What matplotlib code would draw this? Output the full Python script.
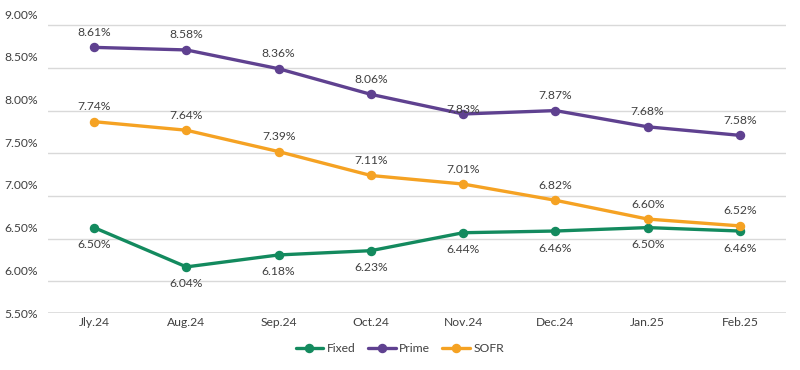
import matplotlib
matplotlib.use("Agg")
import matplotlib.pyplot as plt
import numpy as np

months = ["Jly.24", "Aug.24", "Sep.24", "Oct.24", "Nov.24", "Dec.24", "Jan.25", "Feb.25"]
fixed = [6.50, 6.04, 6.18, 6.23, 6.44, 6.46, 6.50, 6.46]
prime = [8.61, 8.58, 8.36, 8.06, 7.83, 7.87, 7.68, 7.58]
sofr = [7.74, 7.64, 7.39, 7.11, 7.01, 6.82, 6.60, 6.52]
yticks = [5.50, 6.00, 6.50, 7.00, 7.50, 8.00, 8.50, 9.00]

plt.rcParams['font.family'] = ['Lato', 'DejaVu Sans']
text_color = "#404040"

fig = plt.figure(figsize=(8, 3.7), dpi=100)
ax = fig.add_axes([0.06, 0.154, 0.9225, 0.808])

x = np.arange(len(months))
series = [
    ("Fixed", fixed, "#138a5e", -17),
    ("Prime", prime, "#5f4190", 15),
    ("SOFR", sofr, "#f5a223", 15),
]
prime_offsets = [15, 15, 15, 15, 4, 15, 15, 15]

for name, vals, color, off in series:
    ax.plot(x, vals, color=color, lw=2.4, marker="o", ms=5.8, label=name,
            solid_capstyle="round", zorder=3)
    for i, v in enumerate(vals):
        o = prime_offsets[i] if name == "Prime" else off
        ax.annotate(f"{v:.2f}%", (x[i], v), xytext=(0, o), textcoords="offset pixels",
                    ha="center", va="center", fontsize=8.7, color=text_color, zorder=4)

ax.set_xlim(-0.5, len(months) - 0.5)
ax.set_ylim(yticks[0], yticks[-1])
ax.set_yticks(yticks)
ax.set_yticklabels([f"{t:.2f}%" for t in yticks])
ax.set_xticks(x)
ax.set_xticklabels(months)
ax.tick_params(axis="both", length=0, labelsize=8.7, colors=text_color)
ax.tick_params(axis="y", pad=7)
ax.tick_params(axis="x", pad=3)

# gridlines (drawn slightly below each label level as in the reference)
grid_shift = 0.13
for t in yticks[1:]:
    ax.axhline(t - grid_shift, color="#d9d9d9", lw=1, zorder=1)
ax.axhline(yticks[0], color="#d9d9d9", lw=1.2, zorder=1)

for s in ax.spines.values():
    s.set_visible(False)

leg = fig.legend(loc="center", bbox_to_anchor=(0.5, 0.058), ncol=3, frameon=False,
                 fontsize=8.7, handlelength=2.3, columnspacing=1.0, handletextpad=0.3)
for t in leg.get_texts():
    t.set_color(text_color)

fig.savefig("out.png", dpi=100)
